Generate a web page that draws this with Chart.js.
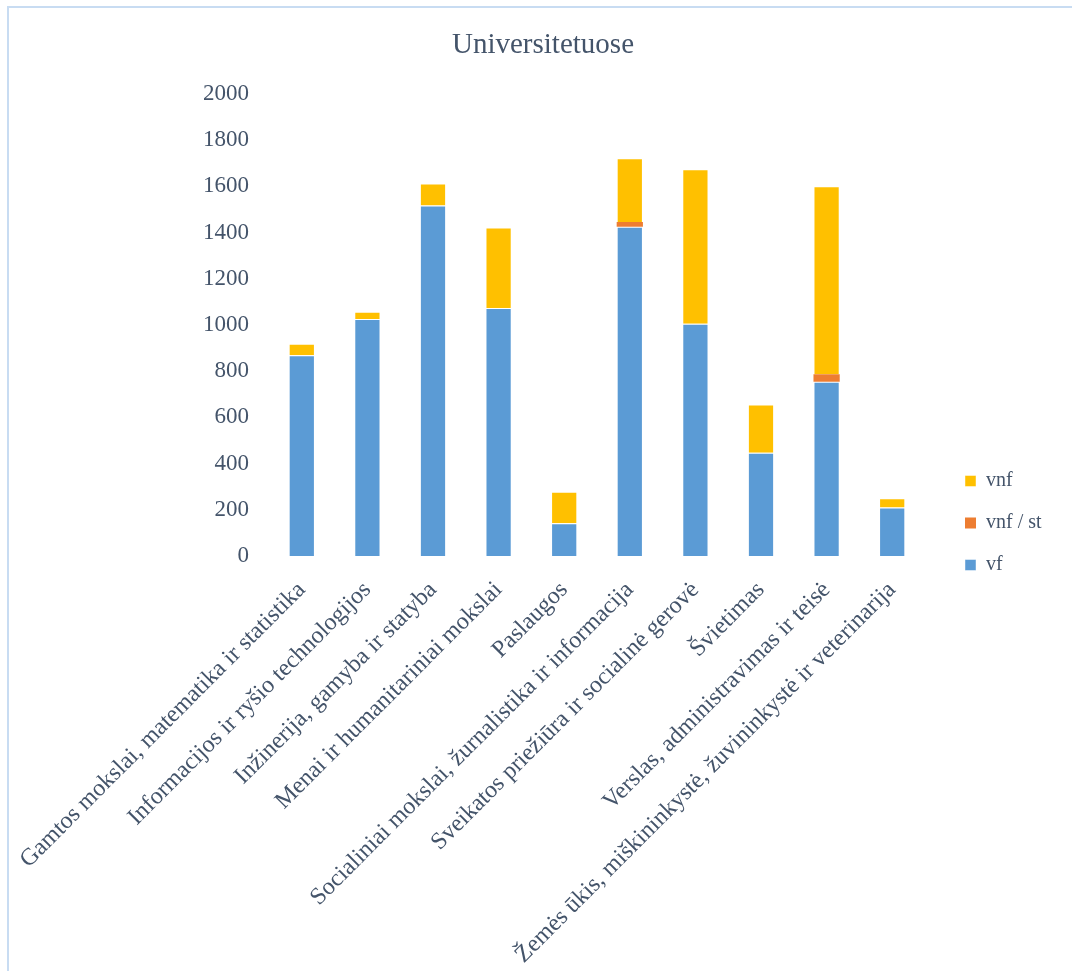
<!DOCTYPE html>
<html>
<head>
<meta charset="utf-8">
<script src="https://cdn.jsdelivr.net/npm/chart.js@4"></script>
<style>
  html, body { margin: 0; padding: 0; background: #fff; }
  #frame { position: absolute; left: 7px; top: 6px; width: 1200px; height: 1100px; border: 2px solid #C8DCF2; box-sizing: border-box; }
  #wrap { position: absolute; left: 0; top: 0; width: 1072px; height: 971px; }
</style>
</head>
<body>
<div id="frame"></div>
<div id="wrap"><canvas id="c" width="1072" height="971"></canvas></div>
<script>
const categories = [
  "Gamtos mokslai, matematika ir statistika",
  "Informacijos ir ryšio technologijos",
  "Inžinerija, gamyba ir statyba",
  "Menai ir humanitariniai mokslai",
  "Paslaugos",
  "Socialiniai mokslai, žurnalistika ir informacija",
  "Sveikatos priežiūra ir socialinė gerovė",
  "Švietimas",
  "Verslas, administravimas ir teisė",
  "Žemės ūkis, miškininkystė, žuvininkystė ir veterinarija"
];
const vf    = [869, 1025, 1517, 1073, 142, 1425, 1005, 447, 754, 210];
const vnfSt = [0, 0, 0, 0, 0, 20, 0, 0, 32, 0];
const vnf   = [49, 32, 95, 349, 136, 276, 668, 209, 814, 40];
const yTicks = [0, 200, 400, 600, 800, 1000, 1200, 1400, 1600, 1800, 2000];
const titleText = "Universitetuose";

const TEXT = '#44546A';
const FONT = 'Liberation Serif';

const legendPlace = {
  id: 'legendPlace',
  afterLayout(chart) {
    const lg = chart.legend;
    if (!lg) return;
    lg.left = 943; lg.right = 1070;
    lg.top = 449; lg.bottom = 700;
    lg.width = lg.right - lg.left; lg.height = lg.bottom - lg.top;
  }
};

new Chart(document.getElementById('c'), {
  type: 'bar',
  data: {
    labels: categories,
    datasets: [
      { label: 'vf', data: vf, backgroundColor: '#5B9BD5', borderColor: 'rgba(255,255,255,0.45)', borderWidth: 1 },
      { label: 'vnf / st', data: vnfSt, backgroundColor: '#ED7D31', borderColor: 'rgba(255,255,255,0.45)', borderWidth: 0 },
      { label: 'vnf', data: vnf, backgroundColor: '#FFC000', borderColor: 'rgba(255,255,255,0.45)', borderWidth: 1 }
    ]
  },
  options: {
    responsive: false,
    animation: false,
    layout: { padding: { left: 161, right: 147, top: 0, bottom: 0 } },
    datasets: { bar: { categoryPercentage: 1, barPercentage: 0.4 } },
    plugins: {
      title: {
        display: true, text: titleText, color: TEXT,
        font: { family: FONT, size: 29, weight: 'normal' },
        padding: { top: 28, bottom: 31 }
      },
      legend: {
        position: 'chartArea', align: 'start', reverse: true,
        labels: {
          color: TEXT, font: { family: FONT, size: 20 },
          boxWidth: 11, boxHeight: 11, padding: 22
        }
      },
      tooltip: { enabled: false }
    },
    scales: {
      x: {
        stacked: true,
        grid: { display: false, drawTicks: false },
        border: { display: false },
        ticks: {
          color: TEXT, font: { family: FONT, size: 24 },
          autoSkip: false, maxRotation: 45, minRotation: 45, padding: 20
        },
        afterFit(s) { s.height = 415; s.paddingLeft = 0; s.paddingRight = 0; }
      },
      y: {
        stacked: true, min: 0, max: 2000,
        grid: { display: false, drawTicks: false },
        border: { display: false },
        afterBuildTicks(s) { s.ticks = yTicks.map(v => ({ value: v })); },
        ticks: { color: TEXT, font: { family: FONT, size: 23 }, padding: 20, callback: (v) => String(v) },
        afterFit(s) { s.width = 108; }
      }
    }
  },
  plugins: [legendPlace]
});
</script>
</body>
</html>
